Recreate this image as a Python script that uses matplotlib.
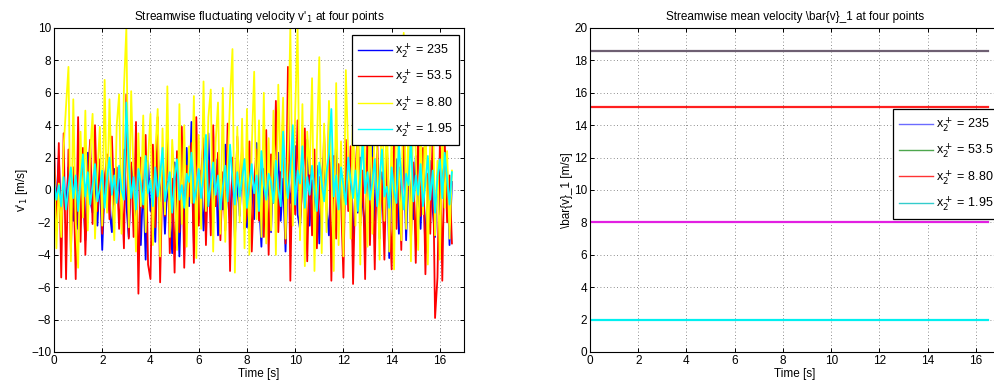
import numpy as np
import matplotlib.pyplot as plt
from matplotlib.lines import Line2D

plt.rcParams["font.family"] = ["Liberation Sans", "DejaVu Sans"]
plt.rcParams["font.size"] = 8.5

# fluctuating streamwise velocity v'_1 [m/s], sampled every 0.1 s
v_235 = [
    1.2, -0.8, 2.1, -2.3, 0.5, -1.1, 1.4, -0.3, -1.9, 0.8,
    -2.4, 1.6, 0.2, -3.1, 2.3, -0.6, -1.4, 0.9, -2.2, 1.1,
    -3.7, 0.4, 2.0, -1.2, -2.6, 1.3, -0.4, 0.7, -1.8, 2.5,
    -0.9, -2.9, 1.5, 0.3, -1.6, 2.2, -3.4, 0.6, -4.3, 1.8,
    -1.3, 0.1, -3.2, 2.4, -0.7, 1.0, -2.7, 0.5, -1.5, -3.9,
    1.7, -0.2, -4.1, 0.9, -2.0, 2.6, -1.0, 4.2, -3.3, 0.4,
    -1.7, 1.2, -2.5, 0.0, 3.5, -1.4, -0.5, 1.9, -2.8, 0.6,
    -1.2, 2.8, -0.3, -2.1, 1.4, -3.0, 0.8, -1.6, 2.0, -0.9,
    -2.3, 1.1, 0.2, -1.8, 2.9, -0.6, -3.5, 1.3, -1.0, 0.5,
    -2.6, 1.8, -0.4, 2.3, -1.9, 0.7, -3.8, 1.6, -0.8, 0.3,
    2.7, -1.5, -2.4, 1.0, -0.1, 3.1, -2.2, 0.6, -1.3, 1.5,
    -3.3, 0.9, 2.2, -1.1, -2.8, 1.7, -0.5, 3.0, -1.7, 0.2,
    -2.0, 2.5, -0.7, 1.2, -3.6, 0.4, -1.4, 2.0, -0.9, -2.5,
    1.4, -0.3, 2.8, -1.9, 0.7, -3.0, 1.1, -0.6, 2.4, -4.2,
    0.8, -1.6, 1.9, -2.7, 0.3, 2.6, -3.1, 1.0, -0.4, -1.8,
    2.1, -0.8, -2.4, 1.5, -3.9, 0.6, 1.8, -1.2, -2.9, 0.9,
    -1.5, 2.3, -0.6, 1.2, -3.4, 0.5,
]
v_53 = [
    3.0, -2.5, 2.9, -5.4, 3.5, -5.5, 2.5, -3.8, 1.4, -5.5,
    4.5, -3.2, 2.6, -4.0, 0.8, 3.1, -2.1, 4.0, -1.3, 1.9,
    -2.7, 0.6, 2.2, -1.8, 3.3, -0.9, 1.4, -2.4, 0.3, -3.6,
    5.9, -3.0, 1.7, -2.9, 4.2, -6.4, 2.0, -1.1, 3.4, -4.6,
    -5.5, 2.8, -2.3, 4.5, -5.7, 1.2, -1.6, 3.6, -3.9, 0.7,
    -5.1, 2.4, -2.6, 3.9, -4.8, 1.5, -0.4, 2.9, -4.5, 4.5,
    -2.2, 0.9, 3.2, -3.4, 1.8, -2.8, 4.0, -1.0, 2.3, -3.1,
    1.1, -2.5, 4.1, -5.0, 2.0, -1.7, 3.3, -0.6, 2.7, -2.4,
    -1.4, 3.0, -3.8, 0.5, 2.5, -1.9, 1.6, -2.9, 3.7, -4.0,
    2.2, -0.8, 5.5, -2.6, 1.3, 3.4, -3.3, 7.6, -5.6, 2.9,
    -1.5, 4.3, -2.1, 0.4, 3.8, -4.4, 1.9, -2.8, 2.5, -3.6,
    0.8, -2.0, 3.5, -1.2, 4.4, -5.6, 2.1, -3.0, 1.6, -0.5,
    -5.4, 3.1, -1.3, 2.7, -5.8, 0.9, 3.9, -2.2, 1.2, -5.5,
    4.2, -3.4, 2.0, -4.9, 3.2, -1.8, 0.6, -4.3, 2.8, -1.0,
    -4.9, 3.5, -2.4, 1.4, -3.7, 4.6, -0.9, 2.2, -3.2, 1.7,
    -4.5, 3.8, -1.6, 2.6, -5.2, 1.0, -2.7, 3.3, -7.9, -5.4,
    2.9, -5.6, 3.1, -2.0, 0.9, -3.3,
]
v_880 = [
    1.8, -3.6, 0.4, -2.9, 2.6, 5.2, 7.6, -4.4, 5.6, -2.0,
    -4.8, 3.6, -1.7, 4.9, -2.5, 2.3, 4.7, -3.0, 1.1, 3.9,
    -2.2, 6.8, -1.4, 5.6, 0.2, -3.1, 4.0, 5.9, -2.7, 6.3,
    10.0, -2.3, 6.1, 0.8, -3.8, 3.5, -1.0, 4.6, -2.6, 1.9,
    4.7, -3.4, 2.4, 5.0, -4.1, 3.8, -1.5, 6.4, -2.9, 3.1,
    0.5, -3.7, 5.3, -2.1, 4.0, -3.5, 2.7, -0.8, 5.8, -4.2,
    3.4, -2.4, 6.7, -1.3, 4.5, 6.2, -3.8, 2.9, 5.4, -2.7,
    6.3, -3.2, 1.5, 5.6, 8.7, -5.1, 3.9, -2.0, 4.4, -3.6,
    5.0, -4.0, 2.6, 7.3, -1.8, 4.3, -2.9, 6.0, -3.3, 3.2,
    -2.5, 4.9, -4.0, 6.5, 1.2, 5.7, -3.0, 2.4, 10.0, -2.2,
    4.8, 10.0, -3.1, 5.3, -4.7, 3.6, 1.0, 6.9, -5.0, 2.8,
    8.2, -3.9, 4.1, -2.6, 5.5, 1.4, -5.0, 6.6, -3.4, 3.0,
    -4.1, 7.4, 2.1, -3.0, 5.1, -2.2, 4.6, -4.6, 9.1, 1.5,
    -3.5, 6.0, -2.7, 4.9, 2.2, -4.3, 7.4, -1.9, 5.2, -3.8,
    3.7, -4.9, 5.8, 1.0, -3.1, 9.7, -2.4, 4.5, -4.4, 6.2,
    2.3, -3.7, 4.0, -1.5, 5.4, -4.6, 3.3, 6.5, -2.8, 1.8,
    -4.3, 3.6, -1.1, 2.4, -3.0, 1.2,
]
v_195 = [
    0.5, -0.6, 0.3, -1.0, 0.8, -1.2, 0.2, 1.4, -0.5, 0.9,
    -1.3, 0.6, 2.2, -0.4, 1.1, -0.9, 0.3, 1.6, -0.7, 0.1,
    1.2, -1.1, 0.7, 2.0, -0.3, 0.9, -0.8, 1.5, 0.0, -0.6,
    5.4, 1.7, -0.5, 0.8, -1.2, 1.3, 0.4, -0.9, 2.1, -0.2,
    0.6, -1.0, 1.4, -0.4, 0.9, 2.6, -0.7, 0.2, 1.1, -1.4,
    0.7, 1.9, -0.6, 0.3, -1.1, 1.0, 0.5, 2.3, -0.8, 0.1,
    1.3, -0.5, 0.8, 3.4, -1.0, 0.4, 1.7, -0.3, 0.9, -1.2,
    0.2, 1.5, -0.7, 2.8, 0.6, -0.9, 1.1, -0.4, 0.7, 1.9,
    -1.1, 0.4, 1.6, -0.2, 0.9, -1.3, 2.4, 0.3, -0.6, 1.0,
    0.5, -0.8, 1.8, 0.1, -1.0, 3.6, 0.7, -0.5, 1.3, 4.0,
    -0.9, 1.2, 0.4, 2.7, -1.1, 0.8, -0.3, 1.5, 0.0, -1.3,
    1.7, 0.5, -0.7, 1.0, 2.2, 5.0, -0.4, 0.9, -1.2, 1.4,
    0.3, -0.9, 2.0, 0.6, -0.5, 1.2, -1.3, 0.8, 3.0, -0.2,
    1.1, -0.6, 0.5, 1.9, -1.0, 0.7, 2.5, -0.4, 0.2, -1.1,
    1.4, 0.0, -0.8, 2.9, 0.6, -1.2, 1.0, 0.3, 3.3, -0.7,
    0.9, -0.3, 1.6, -1.0, 0.4, 2.1, -0.6, 1.2, -1.4, 0.8,
    1.9, -0.5, 2.3, 0.7, -0.9, 1.1,
]
dt = 0.1
t = np.arange(len(v_235)) * dt

labels = ["x$_2^+$ = 235", "x$_2^+$ = 53.5", "x$_2^+$ = 8.80", "x$_2^+$ = 1.95"]
fluct = [v_235, v_53, v_880, v_195]
fluct_colors = ["#0000ff", "#ff0000", "#ffff00", "#00ffff"]

# mean streamwise velocity at the same points [m/s]
t_end = 16.5
mean_v = [18.6, 15.1, 8.0, 2.0]
mean_line_colors = ["#6e5f72", "#ff1f1f", "#e21fe2", "#00f0f0"]
mean_legend_colors = ["#6b6bff", "#4da64d", "#ff3333", "#33cccc"]

fig = plt.figure(figsize=(9.95, 3.87), dpi=100)
ax1 = fig.add_axes([54 / 995, 35 / 387, 410 / 995, 324 / 387])
ax2 = fig.add_axes([590 / 995, 35 / 387, 410 / 995, 324 / 387])

legend_kw = dict(fontsize=9, fancybox=False, edgecolor="black", framealpha=1,
                 handlelength=2.7, labelspacing=0.6, borderpad=0.5,
                 handletextpad=0.25, borderaxespad=0)


def matlab_style(ax):
    ax.grid(True, color="#6a6a6a", linestyle=(0, (1, 3)), linewidth=0.6)
    ax.tick_params(direction="in", top=True, right=True, length=3,
                   width=0.7, labelsize=8.5, pad=2)
    for s in ax.spines.values():
        s.set_linewidth(0.8)
    ax.set_xlim(0, 17)
    ax.set_xticks(np.arange(0, 17, 2))
    ax.set_xlabel("Time [s]", labelpad=1)


for v, c, lab in zip(fluct, fluct_colors, labels):
    ax1.plot(t, v, color=c, linewidth=1.3, label=lab)
matlab_style(ax1)
ax1.set_ylim(-10, 10)
ax1.set_yticks(np.arange(-10, 11, 2))
ax1.set_ylabel("v'$_1$ [m/s]", labelpad=1)
ax1.set_title("Streamwise fluctuating velocity v'$_1$ at four points",
              fontsize=8.5, pad=6)
leg1 = ax1.legend(loc="upper right", bbox_to_anchor=(0.988, 0.978),
                  **legend_kw)
leg1.get_frame().set_linewidth(0.9)
for h in leg1.get_lines():
    h.set_linewidth(1.0)

for m, c in zip(mean_v, mean_line_colors):
    ax2.plot([0, t_end], [m, m], color=c, linewidth=1.6)
matlab_style(ax2)
ax2.set_ylim(0, 20)
ax2.set_yticks(np.arange(0, 21, 2))
ax2.set_ylabel("\\bar{v}_1 [m/s]", labelpad=1)
ax2.set_title("Streamwise mean velocity \\bar{v}_1 at four points",
              fontsize=8.5, pad=6)
handles = [Line2D([0], [0], color=c, linewidth=1.0) for c in mean_legend_colors]
leg2 = ax2.legend(handles, labels, loc="upper left",
                  bbox_to_anchor=(0.739, 0.75), **legend_kw)
leg2.get_frame().set_linewidth(0.9)

fig.savefig("out.png", dpi=100)
plt.close(fig)
